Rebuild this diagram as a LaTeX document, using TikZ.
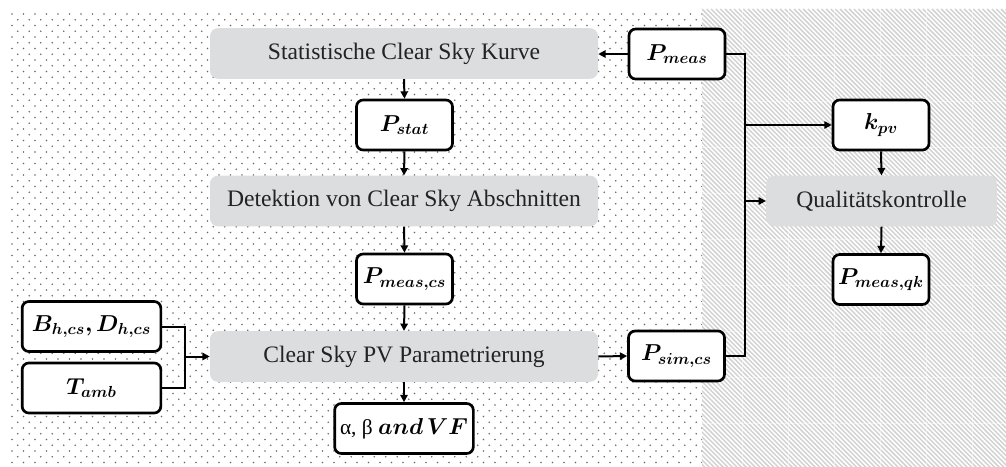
\documentclass[tikz,border=0pt]{standalone}
\usepackage{amsmath,bm}
\usepackage{fontspec}
\setmainfont{Liberation Serif}
\newfontfamily\grk{Liberation Serif}
\usetikzlibrary{arrows.meta}
\DeclareMathSizes{16}{16}{12.5}{10}
\definecolor{boxgray}{RGB}{220,221,223}
\definecolor{textgray}{RGB}{35,35,35}
\definecolor{dotc}{RGB}{105,105,105}
\definecolor{hatchc}{RGB}{210,210,210}
\begin{document}
\begin{tikzpicture}[x=0.75pt,y=-0.75pt,
  graybox/.style={fill=boxgray, rounded corners=6pt, minimum height=38pt, inner sep=0pt, text=textgray, font=\fontsize{17.7}{20}\selectfont},
  var/.style={draw, line width=2pt, fill=white, rounded corners=5pt, minimum width=72pt, minimum height=37.5pt, inner sep=0pt, font=\fontsize{16}{20}\selectfont},
  conn/.style={line width=1.5pt},
  arr/.style={conn, -{Triangle[length=5.5pt,width=5.5pt]}}]
\useasboundingbox (0,0) rectangle (1006,467);
% dotted background
\begin{scope}
\clip (10,10) rectangle (702,467);
\foreach \j in {0,...,40} {
  \foreach \i in {0,...,60} {
    \fill[dotc] ({12+11.5*\i},{14+11.5*\j}) circle (0.6pt);
    \fill[dotc] ({17.75+11.5*\i},{19.75+11.5*\j}) circle (0.6pt);
  }
}
\end{scope}
% hatched background
\begin{scope}
\clip (702,9) rectangle (1006,467);
\foreach \k in {0,...,175} {
  \draw[hatchc, line width=1.1pt] ({242+4.6*\k},9) -- ++(470,470);
}
\foreach \gx in {742,788,834,880,926,972} {
  \draw[white, line width=0.6pt, opacity=0.45] (\gx,9) -- (\gx,467);
}
\foreach \gy in {55,101,147,193,239,285,331,377,423} {
  \draw[white, line width=0.6pt, opacity=0.45] (702,\gy) -- (1006,\gy);
}
\end{scope}
% nodes
\node[graybox, minimum width=291pt] (stat) at (404,53.5) {Statistische Clear Sky Kurve};
\node[var] (pmeas) at (677,54) {$\boldsymbol{P_{meas}}$};
\node[var] (pstat) at (404.5,125) {$\boldsymbol{P_{stat}}$};
\node[graybox, minimum width=291pt] (det) at (404,201) {Detektion von Clear Sky Abschnitten};
\node[var] (pmcs) at (404.5,279) {$\boldsymbol{P_{meas,cs}}$};
\node[graybox, minimum width=291pt] (cspv) at (404,356.5) {Clear Sky PV Parametrierung};
\node[var] (psim) at (676.5,356) {$\boldsymbol{P_{sim,cs}}$};
\node[var, minimum width=104pt] (abvf) at (404,428.5) {{\grk α, β} $\boldsymbol{and\,VF}$};
\node[var, minimum width=104pt] (bd) at (91.5,326.5) {$\boldsymbol{B_{h,cs}, D_{h,cs}}$};
\node[var, minimum width=104pt] (tamb) at (91.5,388) {$\boldsymbol{T_{amb}}$};
\node[var] (kpv) at (881,125) {$\boldsymbol{k_{pv}}$};
\node[graybox, minimum width=173pt] (qk) at (881.5,201) {Qualitätskontrolle};
\node[var] (pmqk) at (881,279.5) {$\boldsymbol{P_{meas,qk}}$};
\coordinate (jl) at (185,356.5);
\coordinate (jr) at (745,200);
% connectors
\draw[arr] (pmeas.west) -- (stat.east |- pmeas.west);
\draw[arr] (stat.south) -- (pstat.north);
\draw[arr] (pstat.south) -- (det.north);
\draw[arr] (det.south) -- (pmcs.north);
\draw[arr] (pmcs.south) -- (cspv.north);
\draw[arr] (cspv.south) -- (abvf.north);
\draw[arr] (cspv.east) -- (psim.west);
\draw[conn] (bd.east) -| (jl) |- (tamb.east);
\draw[arr] (jl) -- (cspv.west);
\draw[conn] (pmeas.east) -| (jr) |- (psim.east);
\draw[arr] (jr |- kpv.west) -- (kpv.west);
\draw[arr] (jr |- qk.west) -- (qk.west);
\draw[arr] (kpv.south) -- (qk.north);
\draw[arr] (qk.south) -- (pmqk.north);
\end{tikzpicture}
\end{document}
